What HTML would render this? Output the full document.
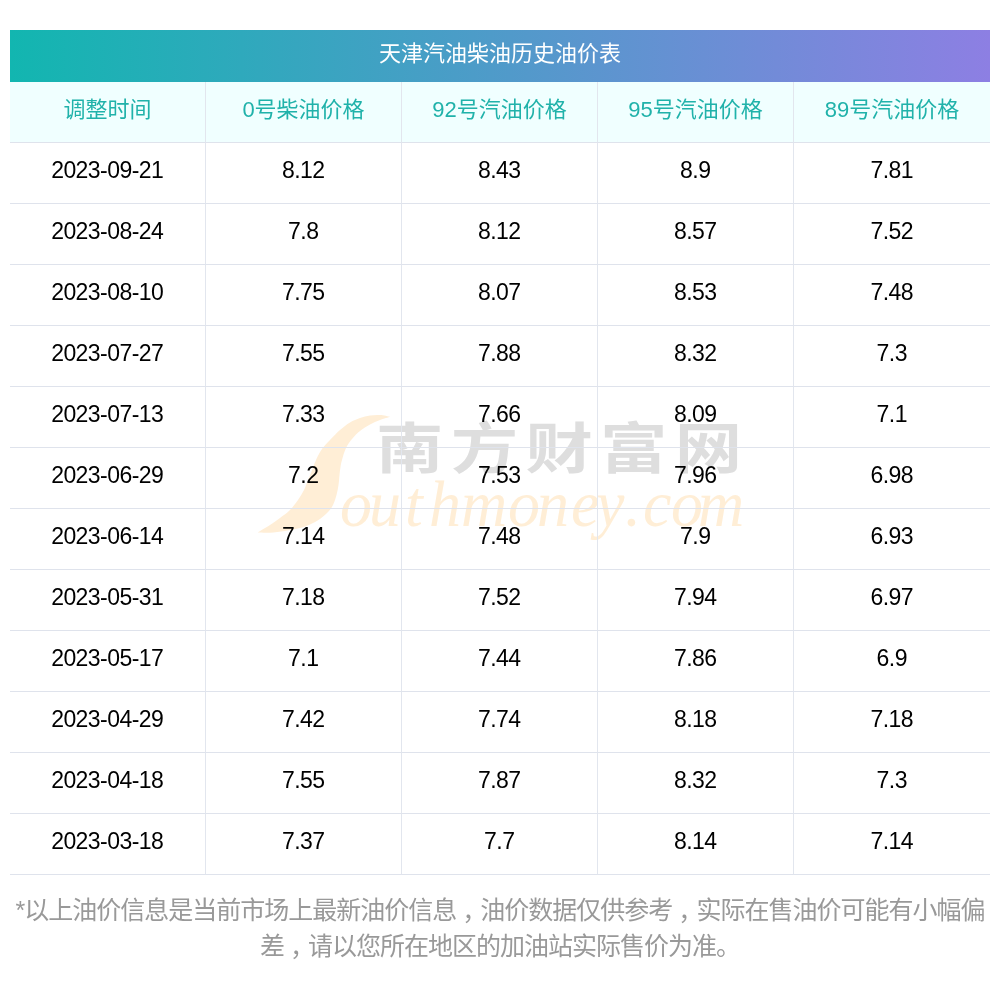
<!DOCTYPE html>
<html lang="zh-CN">
<head>
<meta charset="utf-8">
<title>天津汽油柴油历史油价表</title>
<style>
html,body{margin:0;padding:0;background:#fff;}
body{width:1000px;height:1000px;position:relative;overflow:hidden;font-family:"Liberation Sans","Noto Sans CJK SC",sans-serif;}
.banner{position:absolute;left:10px;top:30px;width:980px;height:52px;background:linear-gradient(90deg,#12b6b0 0%,#8d7fe3 100%);color:#fff;font-size:22px;line-height:52px;text-align:center;}
.banner span{position:relative;top:-1.8px;}
table{z-index:2;position:absolute;left:10px;top:82px;width:980px;border-collapse:separate;border-spacing:0;table-layout:fixed;}
th,td{width:196px;height:61px;padding:0 0 5px 0;border-bottom:1px solid #dfe3ec;border-right:1px solid #e2e6ee;text-align:center;font-size:22px;font-weight:normal;box-sizing:border-box;}
th:last-child,td:last-child{border-right:none;}
th{background:#f0ffff;padding-bottom:10px;color:#20b2aa;}
td{color:#000;}
td span{font-size:23px;letter-spacing:-0.55px;margin-right:0.55px;}
.wm{z-index:1;position:absolute;left:0;top:0;width:1000px;height:1000px;pointer-events:none;}
.note{position:absolute;left:0;top:892px;width:1000px;text-align:center;color:#999;font-size:25px;letter-spacing:-1px;line-height:36px;}
.note i{font-style:normal;position:relative;left:6px;top:1px;}
</style>
</head>
<body>
<div class="banner"><span>天津汽油柴油历史油价表</span></div>
<table>
<thead><tr><th>调整时间</th><th>0号柴油价格</th><th>92号汽油价格</th><th>95号汽油价格</th><th>89号汽油价格</th></tr></thead>
<tbody>
<tr><td><span>2023-09-21</span></td><td><span>8.12</span></td><td><span>8.43</span></td><td><span>8.9</span></td><td><span>7.81</span></td></tr>
<tr><td><span>2023-08-24</span></td><td><span>7.8</span></td><td><span>8.12</span></td><td><span>8.57</span></td><td><span>7.52</span></td></tr>
<tr><td><span>2023-08-10</span></td><td><span>7.75</span></td><td><span>8.07</span></td><td><span>8.53</span></td><td><span>7.48</span></td></tr>
<tr><td><span>2023-07-27</span></td><td><span>7.55</span></td><td><span>7.88</span></td><td><span>8.32</span></td><td><span>7.3</span></td></tr>
<tr><td><span>2023-07-13</span></td><td><span>7.33</span></td><td><span>7.66</span></td><td><span>8.09</span></td><td><span>7.1</span></td></tr>
<tr><td><span>2023-06-29</span></td><td><span>7.2</span></td><td><span>7.53</span></td><td><span>7.96</span></td><td><span>6.98</span></td></tr>
<tr><td><span>2023-06-14</span></td><td><span>7.14</span></td><td><span>7.48</span></td><td><span>7.9</span></td><td><span>6.93</span></td></tr>
<tr><td><span>2023-05-31</span></td><td><span>7.18</span></td><td><span>7.52</span></td><td><span>7.94</span></td><td><span>6.97</span></td></tr>
<tr><td><span>2023-05-17</span></td><td><span>7.1</span></td><td><span>7.44</span></td><td><span>7.86</span></td><td><span>6.9</span></td></tr>
<tr><td><span>2023-04-29</span></td><td><span>7.42</span></td><td><span>7.74</span></td><td><span>8.18</span></td><td><span>7.18</span></td></tr>
<tr><td><span>2023-04-18</span></td><td><span>7.55</span></td><td><span>7.87</span></td><td><span>8.32</span></td><td><span>7.3</span></td></tr>
<tr><td><span>2023-03-18</span></td><td><span>7.37</span></td><td><span>7.7</span></td><td><span>8.14</span></td><td><span>7.14</span></td></tr>
</tbody>
</table>
<svg class="wm" viewBox="0 0 1000 1000" role="img" aria-label="南方财富网 Southmoney.com">
<title>南方财富网 Southmoney.com</title>
<path d="M390.5 416.8C388.8 416.5 383.4 415.2 380.0 415.0C376.6 414.8 373.3 415.0 370.0 415.5C366.7 416.0 363.3 416.8 360.0 418.0C356.7 419.2 353.3 420.5 350.0 422.5C346.7 424.5 343.3 427.1 340.0 430.0C336.7 432.9 333.0 436.8 330.0 440.0C327.0 443.2 324.3 445.7 322.0 449.0C319.7 452.3 317.8 456.0 316.0 460.0C314.2 464.0 312.3 469.7 311.0 473.0C309.7 476.3 309.2 477.2 308.0 480.0C306.8 482.8 305.7 486.7 304.0 490.0C302.3 493.3 300.3 496.7 298.0 500.0C295.7 503.3 293.0 507.0 290.0 510.0C287.0 513.0 283.3 515.5 280.0 518.0C276.7 520.5 273.7 522.6 270.0 525.0C266.3 527.4 260.0 531.0 258.0 532.2L258.0 532.6C260.0 532.6 265.5 533.0 270.0 532.7C274.5 532.4 280.0 531.8 285.0 531.0C290.0 530.2 295.8 529.1 300.0 528.0C304.2 526.9 306.7 526.0 310.0 524.5C313.3 523.0 317.0 521.1 320.0 519.0C323.0 516.9 325.8 514.3 328.0 512.0C330.2 509.7 331.6 507.8 333.0 505.0C334.4 502.2 335.6 498.3 336.5 495.0C337.4 491.7 338.0 488.3 338.5 485.0C339.0 481.7 339.2 478.0 339.5 475.0C339.8 472.0 340.1 469.5 340.5 467.0C340.9 464.5 341.1 463.2 342.0 460.0C342.9 456.8 344.3 451.5 346.0 448.0C347.7 444.5 349.7 441.8 352.0 439.0C354.3 436.2 357.0 433.4 360.0 431.0C363.0 428.6 366.7 426.3 370.0 424.5C373.3 422.7 376.6 421.3 380.0 420.0C383.4 418.7 388.8 417.3 390.5 416.8Z" fill="#ffeed6"/>
<g transform="translate(0,525.5) scale(1,1.03)"><text x="340 369 405 429 461 508 537 571 596 625 643 671 698" y="0" font-family="'Liberation Serif',serif" font-style="italic" font-size="64" fill="#ffeed6">outhmoney.com</text></g>
<g transform="translate(376,0) scale(1.225,1)"><text x="0" y="468" font-family="'Noto Sans CJK SC',sans-serif" font-weight="700" font-size="55" letter-spacing="6" fill="#dedede">南方财富网</text></g>
</svg>
<div class="note">*以上油价信息是当前市场上最新油价信息<i>，</i>油价数据仅供参考<i>，</i>实际在售油价可能有小幅偏差<i>，</i>请以您所在地区的加油站实际售价为准。</div>
</body>
</html>
